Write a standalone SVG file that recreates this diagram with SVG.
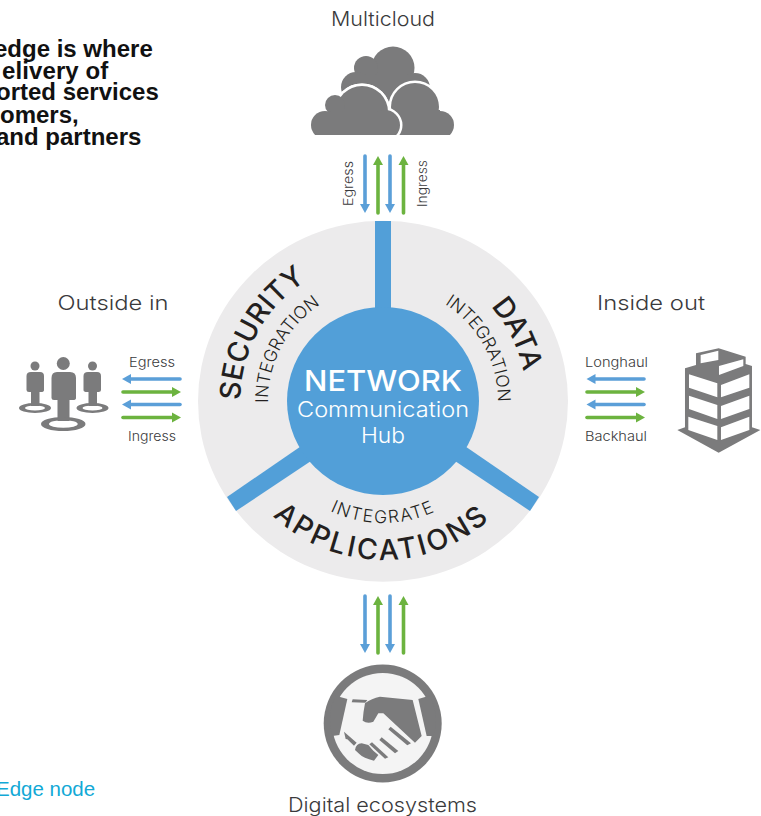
<svg xmlns="http://www.w3.org/2000/svg" width="761" height="816" viewBox="0 0 761 816">
<style>
.lbl{font-family:"Inter","Lato","Liberation Sans",sans-serif;fill:#3a3a3c}
.big{font-size:20px;font-weight:300}
.sm{font-size:13px;font-weight:300}
.head{font-family:"Liberation Sans",Arial,sans-serif;font-weight:700;font-size:24px;fill:#111}
.cv{font-family:"Inter","Lato",sans-serif;fill:#231f20}
.cvb{font-size:28.500px;font-weight:500}
.cvs{font-size:17.500px;font-weight:300}
.hub{font-family:"Inter","Lato",sans-serif;fill:#fff;text-anchor:middle}
.ic{fill:#7b7b7c}
.lt{fill:#f4f4f4}
.b{stroke:#5b9fd8;stroke-width:3.600;fill:none;stroke-linecap:round}
.g{stroke:#6cb33f;stroke-width:3.600;fill:none;stroke-linecap:round}
</style>
<defs>
<marker id="ab" markerUnits="userSpaceOnUse" markerWidth="11" markerHeight="11" refX="1" refY="5.500" orient="auto"><path d="M0 0.500L9 5.500L0 10.500Z" fill="#5b9fd8"/></marker>
<marker id="ag" markerUnits="userSpaceOnUse" markerWidth="11" markerHeight="11" refX="1" refY="5.500" orient="auto"><path d="M0 0.500L9 5.500L0 10.500Z" fill="#6cb33f"/></marker>
<path id="pSec" d="M306.200 521.600A143 143 0 0 1 437.700 268.900"/>
<path id="pIntL" d="M317 495.200A115 115 0 0 1 431.600 296.800"/>
<path id="pData" d="M329.400 268.400A143 143 0 0 1 458.800 522.300"/>
<path id="pIntR" d="M334.400 296.800A115 115 0 0 1 449 495.200"/>
<path id="pApp" d="M224 401A159 159 0 0 0 542 401"/>
<path id="pInt" d="M261 401A122 122 0 0 0 505 401"/>
<clipPath id="cc"><rect x="300" y="30" width="170" height="105"/></clipPath>
</defs>
<g id="top-text">
<text class="head" x="-6" y="57">edge is where</text>
<text class="head" x="2" y="79" letter-spacing=".1">elivery of</text>
<text class="head" x="-4" y="100">orted services</text>
<text class="head" x="0" y="123">omers,</text>
<text class="head" x="-4" y="145">and partners</text>
</g>
<g id="hub-disc">
<ellipse cx="383" cy="401.300" rx="185" ry="180.500" fill="#ecebec"/>
<path d="M375 221H391V320H375Z" fill="#529fd8"/>
<path d="M227 497L236 511L320 455L310 440Z" fill="#529fd8"/>
<path d="M539 497L530 511L446 455L456 440Z" fill="#529fd8"/>
<ellipse cx="383" cy="401" rx="96" ry="94" fill="#529fd8"/>
<text class="hub" x="383" y="391" font-size="29" font-weight="500" textLength="158" lengthAdjust="spacingAndGlyphs">NETWORK</text>
<text class="hub" x="383" y="417" font-size="21" font-weight="300" textLength="172" lengthAdjust="spacingAndGlyphs">Communication</text>
<text class="hub" x="383" y="443" font-size="21" font-weight="300" textLength="44" lengthAdjust="spacingAndGlyphs">Hub</text>
<text class="cv cvb" text-anchor="middle" transform="rotate(1.500 383 401)"><textPath href="#pSec" startOffset="50%">SECURITY</textPath></text>
<text class="cv cvs" text-anchor="middle" transform="rotate(-2 383 401)"><textPath href="#pIntL" startOffset="50%">INTEGRATION</textPath></text>
<text class="cv cvb" text-anchor="middle" transform="rotate(.5 383 401)"><textPath href="#pData" startOffset="50%">DATA</textPath></text>
<text class="cv cvs" text-anchor="middle" transform="rotate(1.500 383 401)"><textPath href="#pIntR" startOffset="50%">INTEGRATION</textPath></text>
<text class="cv cvb" text-anchor="middle" letter-spacing="2.800" transform="rotate(.5 383 401)"><textPath href="#pApp" startOffset="50%">APPLICATIONS</textPath></text>
<text class="cv cvs" text-anchor="middle" letter-spacing="1.600"><textPath href="#pInt" startOffset="50%">INTEGRATE</textPath></text>
</g>
<g id="multicloud">
<text class="lbl big" x="383" y="26" text-anchor="middle" textLength="104" lengthAdjust="spacingAndGlyphs">Multicloud</text>
<g clip-path="url(#cc)">
<g class="ic"><circle cx="393" cy="68" r="21.500"/><circle cx="366" cy="68" r="12"/><circle cx="356" cy="87" r="15"/><circle cx="415" cy="88" r="15"/><rect x="350" y="75" width="70" height="30"/></g>
<g fill="#fff" stroke="#fff" stroke-width="5"><circle cx="362" cy="112" r="26"/><circle cx="335" cy="105" r="10"/><circle cx="325" cy="125" r="14"/><circle cx="385" cy="125" r="15"/><circle cx="415" cy="107" r="24"/></g>
<g class="ic"><circle cx="415" cy="107" r="24"/><circle cx="440" cy="125" r="14"/><rect x="395" y="110" width="45" height="30"/></g>
<g fill="#fff" stroke="#fff" stroke-width="5"><circle cx="362" cy="112" r="26"/><circle cx="385" cy="125" r="15"/></g>
<g class="ic"><circle cx="362" cy="112" r="26"/><circle cx="335" cy="105" r="10"/><circle cx="325" cy="125" r="14"/><circle cx="385" cy="125" r="15"/><rect x="325" y="112" width="60" height="30"/></g>
</g>
</g>
<g id="outside-in">
<text class="lbl big" x="113" y="310" text-anchor="middle" textLength="111" lengthAdjust="spacingAndGlyphs">Outside in</text>
<g class="ic">
<circle cx="63.300" cy="363.500" r="6.500"/><path d="M57 372H70Q76 372 76 378V398Q76 400 73 400H69.500V421H57.500V400H54Q51.500 400 51.500 398V378Q51.500 372 57 372Z"/>
<circle cx="35" cy="366" r="4.500"/><path d="M31 372H40Q44 372 44 376V390Q44 392 41 392H39.500V406H31V392H29Q26.500 392 26.500 390V376Q26.500 372 31 372Z"/>
<circle cx="92.500" cy="366" r="4.500"/><path d="M88 372H97Q101 372 101 376V390Q101 392 98.500 392H97V406H88.500V392H87Q83.500 392 83.500 390V376Q83.500 372 88 372Z"/>
<path fill-rule="evenodd" d="M41 424A22 7 0 1 0 85.500 424A22 7 0 1 0 41 424ZM49 424A14.300 3.800 0 1 1 77.700 424A14.300 3.800 0 1 1 49 424Z"/>
<path fill-rule="evenodd" d="M19 408A16 5 0 1 0 51 408A16 5 0 1 0 19 408ZM25 408A10 2.500 0 1 1 45 408A10 2.500 0 1 1 25 408Z"/>
<path fill-rule="evenodd" d="M76.500 408A16 5 0 1 0 108.500 408A16 5 0 1 0 76.500 408ZM82.500 408A10 2.500 0 1 1 102.500 408A10 2.500 0 1 1 82.500 408Z"/>
</g>
<text class="lbl sm" x="152" y="367" text-anchor="middle" textLength="46" lengthAdjust="spacingAndGlyphs">Egress</text>
<text class="lbl sm" x="152" y="441" text-anchor="middle" textLength="48" lengthAdjust="spacingAndGlyphs">Ingress</text>
</g>
<g id="inside-out">
<text class="lbl big" x="651" y="310" text-anchor="middle" textLength="108" lengthAdjust="spacingAndGlyphs">Inside out</text>
<g transform="translate(580 340) scale(.3333)">
<path class="ic" d="M348 40L416 25L497 50V72L516 78V262L541 270L416 338L292 270L315 262V85L348 75Z"/>
<path fill="#fff" d="M327 103L412 130V172L327 143ZM327 167L412 195V237L327 207ZM325 230L412 258V300L325 270ZM423 135L508 103V143L423 172ZM423 198L508 167V207L423 237ZM423 262L508 230V270L423 300ZM362 45L415 32V60L362 70ZM417 78L490 58V78L417 105Z"/>
</g>
<text class="lbl sm" x="616.500" y="367" text-anchor="middle" textLength="63" lengthAdjust="spacingAndGlyphs">Longhaul</text>
<text class="lbl sm" x="616" y="441" text-anchor="middle" textLength="62" lengthAdjust="spacingAndGlyphs">Backhaul</text>
</g>
<g id="digital-ecosystems">
<text class="lbl big" x="382.500" y="812" text-anchor="middle" textLength="189" lengthAdjust="spacingAndGlyphs">Digital ecosystems</text>
<circle class="ic" cx="382.700" cy="723.500" r="59"/>
<circle class="lt" cx="382.700" cy="723.500" r="50.500"/>
<g transform="translate(330 680) scale(.3333)" class="ic">
<path d="M17 47L52 57L28 165L7 168Q-10 100 17 47Z"/>
<path d="M298 47L265 57L290 168L310 168Q330 100 298 47Z"/>
<path d="M68 58L112 60L106 68L65 67Z"/>
<path d="M105 70Q125 55 150 50L248 60L275 168L255 188L160 100L145 100L130 125Q112 133 98 122Q100 95 105 70Z"/>
<path d="M42 155L80 188L72 197L52 178L47 177Z"/>
<path d="M75 210Q78 190 95 190L115 195L130 212L145 225L132 242Q100 235 88 222Z"/>
<path d="M148 180L155 172L205 213L195 220Z"/>
<path d="M175 148L182 140L243 190L232 196Z"/>
<path d="M118 193L126 187L175 232L165 236Z"/>
</g>
</g>
<g id="connectors">
<path class="b" d="M365 156V205" marker-end="url(#ab)"/>
<path class="g" d="M378 213V164" marker-end="url(#ag)"/>
<path class="b" d="M390 156V205" marker-end="url(#ab)"/>
<path class="g" d="M403.500 213V164" marker-end="url(#ag)"/>
<path class="b" d="M365 596V645" marker-end="url(#ab)"/>
<path class="g" d="M378 653V604" marker-end="url(#ag)"/>
<path class="b" d="M390 596V645" marker-end="url(#ab)"/>
<path class="g" d="M403.500 653V604" marker-end="url(#ag)"/>
<path class="b" d="M180 379H130" marker-end="url(#ab)"/>
<path class="g" d="M123 392H173" marker-end="url(#ag)"/>
<path class="b" d="M180 404.500H130" marker-end="url(#ab)"/>
<path class="g" d="M123 417.500H173" marker-end="url(#ag)"/>
<path class="b" d="M644 379H594.500" marker-end="url(#ab)"/>
<path class="g" d="M587 392H637" marker-end="url(#ag)"/>
<path class="b" d="M644 404.500H594.500" marker-end="url(#ab)"/>
<path class="g" d="M587 417.500H637" marker-end="url(#ag)"/>
</g>
<text class="lbl sm" transform="translate(352.500 206) rotate(-90)" textLength="45" lengthAdjust="spacingAndGlyphs">Egress</text>
<text class="lbl sm" transform="translate(426.500 207) rotate(-90)" textLength="47" lengthAdjust="spacingAndGlyphs">Ingress</text>
<text id="edge-node" x="-4" y="796" font-family="Liberation Sans,Arial,sans-serif" font-size="20.500" fill="#12a9d6">Edge node</text>
</svg>
